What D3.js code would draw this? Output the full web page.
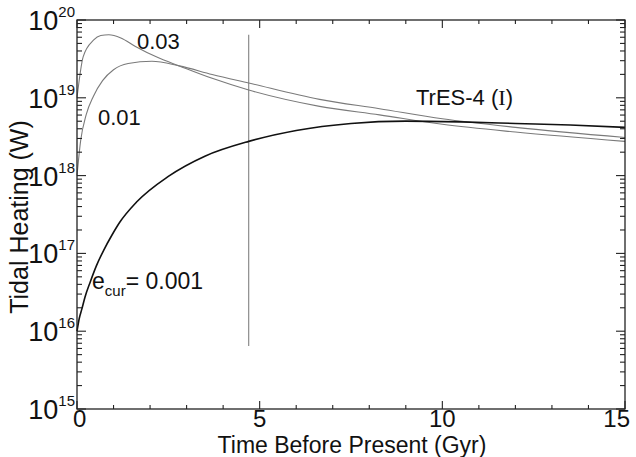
<!DOCTYPE html>
<html>
<head>
<meta charset="utf-8">
<script src="https://cdn.jsdelivr.net/npm/d3@7"></script>
<style>
  html, body { margin: 0; padding: 0; background: #fff; }
  svg { display: block; }
  text { font-family: "Liberation Sans", Arial, sans-serif; fill: #111; }
</style>
</head>
<body>
<svg id="chart" width="636" height="457"></svg>
<script>
// Tidal heating history, log10(W) versus time before present (Gyr)
const timeLow = [0, 0.06, 0.13, 0.22, 0.36, 0.53, 0.73, 0.95, 1.17, 1.63, 2.5, 3.5, 4.7, 6.0, 7.5, 9.0, 10.5, 12.0, 13.5, 15.0];
const heatLow = [16.0, 16.16, 16.28, 16.44, 16.63, 16.84, 17.04, 17.23, 17.40, 17.66, 17.99, 18.25, 18.44, 18.58, 18.67, 18.70, 18.69, 18.67, 18.65, 18.62];

const timeMid = [0, 0.1, 0.25, 0.45, 0.7, 1.0, 1.4, 2.05, 2.8, 3.7, 4.7, 6.64, 8.28, 10.0, 12.0, 15.0];
const heatMid = [18.0, 18.45, 18.78, 19.02, 19.22, 19.36, 19.44, 19.47, 19.41, 19.30, 19.19, 18.98, 18.86, 18.73, 18.62, 18.49];

const timeHigh = [0, 0.17, 0.45, 0.65, 0.87, 1.2, 1.6, 2.2, 2.8, 3.7, 4.7, 6.64, 8.28, 10.0, 12.0, 15.0];
const heatHigh = [19.0, 19.53, 19.74, 19.80, 19.81, 19.77, 19.66, 19.52, 19.41, 19.25, 19.10, 18.89, 18.78, 18.66, 18.56, 18.44];

// current-age marker
const presentAge = 4.7;
const markerRange = [15.81, 19.81];

const yDecades = [15, 16, 17, 18, 19, 20];
const xMajor = [0, 5, 10, 15];

const svg = d3.select("#chart");
const mLeft = 77, mRight = 625, mTop = 20, mBottom = 409;

const x = d3.scaleLinear().domain([0, 15]).range([mLeft, mRight]);
const y = d3.scaleLog().domain([1e15, 1e20]).range([mBottom, mTop]);

const toPts = (ts, hs) => ts.map((t, i) => [t, Math.pow(10, hs[i])]);
const lineGen = d3.line().x(d => x(d[0])).y(d => y(d[1])).curve(d3.curveMonotoneX);

const plot = svg.append("g");

// present-age vertical line
plot.append("line")
  .attr("x1", x(presentAge)).attr("x2", x(presentAge))
  .attr("y1", y(Math.pow(10, markerRange[0]))).attr("y2", y(Math.pow(10, markerRange[1])))
  .attr("stroke", "#808080").attr("stroke-width", 1.1);

plot.append("path").datum(toPts(timeHigh, heatHigh))
  .attr("d", lineGen).attr("fill", "none").attr("stroke", "#7a7a7a").attr("stroke-width", 1.1);
plot.append("path").datum(toPts(timeMid, heatMid))
  .attr("d", lineGen).attr("fill", "none").attr("stroke", "#7a7a7a").attr("stroke-width", 1.1);
plot.append("path").datum(toPts(timeLow, heatLow))
  .attr("d", lineGen).attr("fill", "none").attr("stroke", "#111").attr("stroke-width", 1.6);

// frame
svg.append("rect").attr("x", mLeft).attr("y", mTop)
  .attr("width", mRight - mLeft).attr("height", mBottom - mTop)
  .attr("fill", "none").attr("stroke", "#222").attr("stroke-width", 1.3);

// x ticks (inward, bottom and top)
const xMinor = d3.range(0, 16).filter(v => v % 5 !== 0);
const xt = svg.append("g").attr("stroke", "#222").attr("stroke-width", 1.1);
xMajor.forEach(v => {
  xt.append("line").attr("x1", x(v)).attr("x2", x(v)).attr("y1", mBottom).attr("y2", mBottom - 8);
  xt.append("line").attr("x1", x(v)).attr("x2", x(v)).attr("y1", mTop).attr("y2", mTop + 8);
});
xMinor.forEach(v => {
  xt.append("line").attr("x1", x(v)).attr("x2", x(v)).attr("y1", mBottom).attr("y2", mBottom - 4);
  xt.append("line").attr("x1", x(v)).attr("x2", x(v)).attr("y1", mTop).attr("y2", mTop + 4);
});

// y ticks (log, inward, left and right)
const yt = svg.append("g").attr("stroke", "#222").attr("stroke-width", 1.1);
yDecades.forEach(d => {
  const v = Math.pow(10, d);
  yt.append("line").attr("x1", mLeft).attr("x2", mLeft + 9).attr("y1", y(v)).attr("y2", y(v));
  yt.append("line").attr("x1", mRight).attr("x2", mRight - 9).attr("y1", y(v)).attr("y2", y(v));
  if (d < 20) {
    for (let m = 2; m <= 9; m++) {
      const mv = m * v;
      yt.append("line").attr("x1", mLeft).attr("x2", mLeft + 5).attr("y1", y(mv)).attr("y2", y(mv));
      yt.append("line").attr("x1", mRight).attr("x2", mRight - 5).attr("y1", y(mv)).attr("y2", y(mv));
    }
  }
});

// y tick labels: 10^n
yDecades.forEach(d => {
  const t = svg.append("text")
    .attr("x", 75).attr("y", y(Math.pow(10, d)) + 10)
    .attr("text-anchor", "end").attr("font-size", 27);
  t.append("tspan").text("10");
  t.append("tspan").attr("font-size", 15).attr("dy", -13).text(d);
});

// x tick labels
xMajor.forEach(v => {
  svg.append("text").attr("x", x(v)).attr("y", 427)
    .attr("text-anchor", v === 15 ? "end" : (v === 0 ? "start" : "middle"))
    .attr("dx", v === 15 ? 5 : (v === 0 ? -4 : 0))
    .attr("font-size", 24).text(v);
});

// axis titles
svg.append("text").attr("x", 352).attr("y", 453)
  .attr("text-anchor", "middle").attr("font-size", 23).text("Time Before Present (Gyr)");
svg.append("text")
  .attr("transform", "translate(28,217) rotate(-90)")
  .attr("text-anchor", "middle").attr("font-size", 25).text("Tidal Heating (W)");

// curve labels
svg.append("text").attr("x", 137).attr("y", 49).attr("font-size", 22).text("0.03");
svg.append("text").attr("x", 98).attr("y", 125).attr("font-size", 22).text("0.01");
const tres = svg.append("text").attr("x", 416).attr("y", 105).attr("font-size", 22);
tres.append("tspan").text("TrES-4 (");
tres.append("tspan").attr("font-family", "'Liberation Serif', 'Times New Roman', serif").text("I");
tres.append("tspan").text(")");
const ecur = svg.append("text").attr("x", 92).attr("y", 289).attr("font-size", 23);
ecur.append("tspan").text("e");
ecur.append("tspan").attr("font-size", 15).attr("dy", 7).text("cur");
ecur.append("tspan").attr("dy", -7).text("= 0.001");
</script>
</body>
</html>
